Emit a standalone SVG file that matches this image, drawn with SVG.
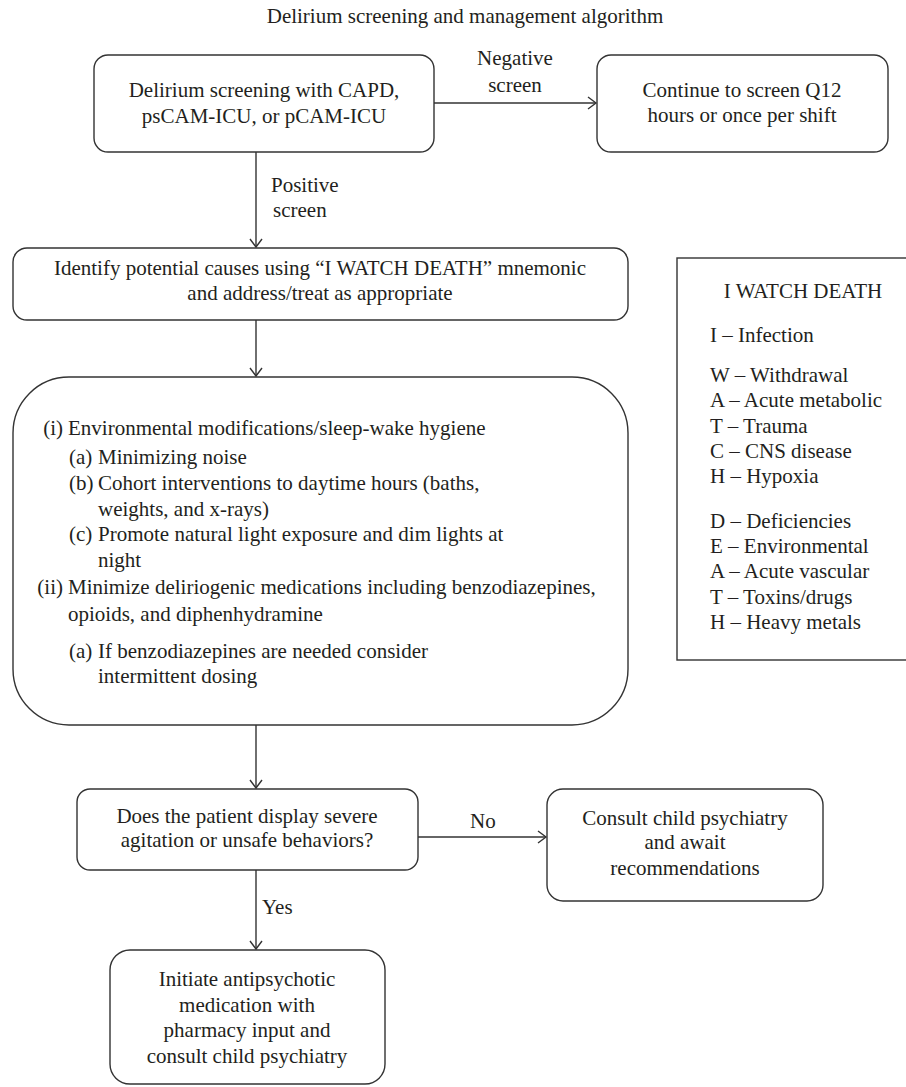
<svg xmlns="http://www.w3.org/2000/svg" width="906" height="1087" viewBox="0 0 906 1087">
<style>
text{font-family:"Liberation Serif","Times New Roman",serif;font-size:21px;fill:#231f20}
.c{text-anchor:middle}
.e{text-anchor:end}
.box{fill:#fff;stroke:#333;stroke-width:1.4}
.ln{fill:none;stroke:#333;stroke-width:1.4}
</style>
<defs>
<marker id="ah" markerUnits="userSpaceOnUse" markerWidth="12" markerHeight="14" refX="9" refY="7" orient="auto">
<path d="M1,1 L9,7 L1,13" fill="none" stroke="#333" stroke-width="1.4"/>
</marker>
</defs>
<rect width="906" height="1087" fill="#fff"/>
<text class="c" x="465" y="23">Delirium screening and management algorithm</text>

<g id="connectors">
<line class="ln" x1="434" y1="103" x2="596" y2="103" marker-end="url(#ah)"/>
<line class="ln" x1="256" y1="152" x2="256" y2="247" marker-end="url(#ah)"/>
<line class="ln" x1="256" y1="320" x2="256" y2="376" marker-end="url(#ah)"/>
<line class="ln" x1="256" y1="725" x2="256" y2="788" marker-end="url(#ah)"/>
<line class="ln" x1="418" y1="837" x2="546" y2="837" marker-end="url(#ah)"/>
<line class="ln" x1="256" y1="870" x2="256" y2="949" marker-end="url(#ah)"/>
<text class="c" x="515" y="65">Negative</text>
<text class="c" x="515" y="92">screen</text>
<text x="271" y="192">Positive</text>
<text x="273" y="217">screen</text>
<text x="470" y="828">No</text>
<text x="262" y="914">Yes</text>
</g>

<g id="screening">
<rect class="box" x="94" y="55" width="340" height="97" rx="14"/>
<text class="c" x="264" y="97">Delirium screening with CAPD,</text>
<text class="c" x="264" y="123">psCAM-ICU, or pCAM-ICU</text>
</g>

<g id="continue">
<rect class="box" x="597" y="55" width="291" height="97" rx="14"/>
<text class="c" x="742" y="97">Continue to screen Q12</text>
<text class="c" x="742" y="122">hours or once per shift</text>
</g>

<g id="identify">
<rect class="box" x="13" y="248" width="615" height="72" rx="14"/>
<text class="c" x="320" y="275">Identify potential causes using “I WATCH DEATH” mnemonic</text>
<text class="c" x="320" y="300">and address/treat as appropriate</text>
</g>

<g id="interventions">
<rect class="box" x="13" y="377" width="615" height="348" rx="56"/>
<text class="e" x="63" y="435">(i)</text>
<text x="68" y="435">Environmental modifications/sleep-wake hygiene</text>
<text x="69" y="464">(a)</text>
<text x="98" y="464">Minimizing noise</text>
<text x="69" y="490">(b)</text>
<text x="98" y="490">Cohort interventions to daytime hours (baths,</text>
<text x="98" y="516">weights, and x-rays)</text>
<text x="69" y="541">(c)</text>
<text x="98" y="541">Promote natural light exposure and dim lights at</text>
<text x="98" y="567">night</text>
<text class="e" x="63" y="594">(ii)</text>
<text x="68" y="594">Minimize deliriogenic medications including benzodiazepines,</text>
<text x="68" y="621">opioids, and diphenhydramine</text>
<text x="69" y="658">(a)</text>
<text x="98" y="658">If benzodiazepines are needed consider</text>
<text x="98" y="683">intermittent dosing</text>
</g>

<g id="legend">
<rect x="677" y="258" width="240" height="402" fill="#fff" stroke="#333" stroke-width="1.4"/>
<text class="c" x="803" y="298">I WATCH DEATH</text>
<text x="710" y="342">I – Infection</text>
<text x="710" y="382">W – Withdrawal</text>
<text x="710" y="407">A – Acute metabolic</text>
<text x="710" y="433">T – Trauma</text>
<text x="710" y="458">C – CNS disease</text>
<text x="710" y="483">H – Hypoxia</text>
<text x="710" y="528">D – Deficiencies</text>
<text x="710" y="553">E – Environmental</text>
<text x="710" y="578">A – Acute vascular</text>
<text x="710" y="604">T – Toxins/drugs</text>
<text x="710" y="629">H – Heavy metals</text>
</g>

<g id="decision">
<rect class="box" x="77" y="789" width="341" height="81" rx="13"/>
<text class="c" x="247" y="823">Does the patient display severe</text>
<text class="c" x="247" y="847">agitation or unsafe behaviors?</text>
</g>

<g id="consult">
<rect class="box" x="547" y="789" width="276" height="112" rx="16"/>
<text class="c" x="685" y="825">Consult child psychiatry</text>
<text class="c" x="685" y="849">and await</text>
<text class="c" x="685" y="875">recommendations</text>
</g>

<g id="antipsychotic">
<rect class="box" x="110" y="950" width="275" height="134" rx="20"/>
<text class="c" x="247" y="986">Initiate antipsychotic</text>
<text class="c" x="247" y="1012">medication with</text>
<text class="c" x="247" y="1037">pharmacy input and</text>
<text class="c" x="247" y="1063">consult child psychiatry</text>
</g>
</svg>
